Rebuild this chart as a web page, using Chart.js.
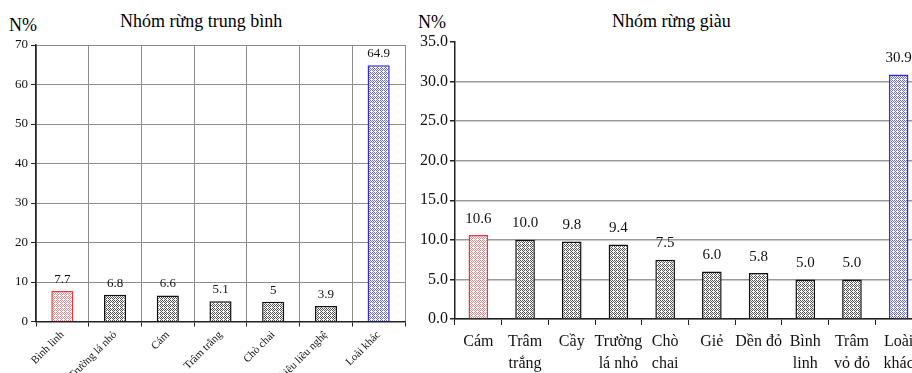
<!DOCTYPE html>
<html>
<head>
<meta charset="utf-8">
<script src="https://cdn.jsdelivr.net/npm/chart.js@4.4.0/dist/chart.umd.min.js"></script>
<style>
  html, body { margin: 0; padding: 0; background: #fff; }
  body { width: 912px; height: 373px; overflow: hidden; position: relative; font-family: "Liberation Serif", "Times New Roman", serif; }
  .txt { position: absolute; font-size: 18px; color: #000; white-space: nowrap; line-height: 1; }
  #c1 { position: absolute; left: 0; top: 0; }
  #c2 { position: absolute; left: 410px; top: 0; }
</style>
</head>
<body>
<div class="txt" style="left:9px; top:16px;">N%</div>
<div class="txt" style="left:120px; top:12px;">Nhóm rừng trung bình</div>
<div class="txt" style="left:418px; top:13px;">N%</div>
<div class="txt" style="left:612px; top:12px;">Nhóm rừng giàu</div>
<canvas id="c1" width="410" height="373"></canvas>
<canvas id="c2" width="517" height="373"></canvas>
<script>
// left chart - average forest group
const midLabels = ["Bình linh", "Trường lá nhỏ", "Cám", "Trâm trắng", "Chò chai", "Chiêu liêu nghệ", "Loài khác"];
const midValues = [7.7, 6.8, 6.6, 5.1, 5, 3.9, 64.9];
const midTicks = [0, 10, 20, 30, 40, 50, 60, 70];

// right chart - rich forest group
const richLabels = ["Cám", ["Trâm", "trắng"], "Cầy", ["Trường", "lá nhỏ"], ["Chò", "chai"], "Giẻ", "Dền đỏ", ["Bình", "linh"], ["Trâm", "vỏ đỏ"], ["Loài", "khác"]];
const richValues = [10.6, 10.0, 9.8, 9.4, 7.5, 6.0, 5.8, 5.0, 5.0, 30.9];
const richTicks = [0, 5, 10, 15, 20, 25, 30, 35];

const FONT = "'Liberation Serif', 'Times New Roman', serif";

function hatch(color) {
    const c = document.createElement("canvas");
    c.width = 4;
    c.height = 4;
    const g = c.getContext("2d");
    g.fillStyle = "#fff";
    g.fillRect(0, 0, 4, 4);
    g.fillStyle = color;
    g.fillRect(0, 0, 1, 1);
    g.fillRect(2, 0, 1, 1);
    g.fillRect(1, 1, 1, 1);
    g.fillRect(3, 1, 1, 1);
    g.fillRect(0, 2, 1, 1);
    g.fillRect(2, 2, 1, 1);
    g.fillRect(1, 3, 1, 1);
    return g.createPattern(c, "repeat");
}

function barColors(n) {
    const border = [], fill = [];
    for (let i = 0; i < n; i++) {
        if (i === 0) { border.push("#e8383d"); fill.push(hatch("#e88a8c")); }
        else if (i === n - 1) { border.push("#2e2ee0"); fill.push(hatch("#6a6ae8")); }
        else { border.push("#111"); fill.push(hatch("#555")); }
    }
    return { border, fill };
}

function valueLabels(fontSize, gap, fmt) {
    return {
        id: "valueLabels",
        afterDatasetsDraw(chart) {
            const ctx = chart.ctx;
            const meta = chart.getDatasetMeta(0);
            const data = chart.data.datasets[0].data;
            ctx.save();
            ctx.font = fontSize + "px " + FONT;
            ctx.fillStyle = "#111";
            ctx.textAlign = "center";
            ctx.textBaseline = "bottom";
            meta.data.forEach((bar, i) => {
                ctx.fillText(fmt(data[i]), bar.x, bar.y - gap);
            });
            ctx.restore();
        }
    };
}

const mc = barColors(midValues.length);
new Chart(document.getElementById("c1"), {
    type: "bar",
    data: {
        labels: midLabels,
        datasets: [{
            data: midValues,
            backgroundColor: mc.fill,
            borderColor: mc.border,
            borderWidth: 1.5,
            barPercentage: 0.42,
            categoryPercentage: 1
        }]
    },
    options: {
        responsive: false,
        animation: false,
        layout: { padding: { left: 0, right: 5, top: 45, bottom: 0 } },
        plugins: { legend: { display: false }, tooltip: { enabled: false } },
        scales: {
            x: {
                afterFit(s) { s.height = 51.5; },
                grid: { color: "#8c8c8c", tickColor: "#222", tickLength: 5, offset: true },
                border: { color: "#222", width: 1.5 },
                ticks: { color: "#111", font: { family: FONT, size: 11 }, maxRotation: 45, minRotation: 45, padding: 2, autoSkip: false }
            },
            y: {
                min: 0,
                max: 70,
                afterFit(s) { s.width = 36; },
                afterBuildTicks(s) { s.ticks = midTicks.map(v => ({ value: v })); },
                grid: { color: "#8c8c8c", tickColor: "#222", tickLength: 5 },
                border: { color: "#222", width: 1.5 },
                ticks: { color: "#111", font: { family: FONT, size: 13 }, padding: 3 }
            }
        }
    },
    plugins: [valueLabels(13, 5, v => String(v))]
});

const rc = barColors(richValues.length);
new Chart(document.getElementById("c2"), {
    type: "bar",
    data: {
        labels: richLabels,
        datasets: [{
            data: richValues,
            backgroundColor: rc.fill,
            borderColor: rc.border,
            borderWidth: 1.5,
            barPercentage: 0.42,
            categoryPercentage: 1
        }]
    },
    options: {
        responsive: false,
        animation: false,
        layout: { padding: { left: 0, right: 5, top: 42, bottom: 0 } },
        plugins: { legend: { display: false }, tooltip: { enabled: false } },
        scales: {
            x: {
                afterFit(s) { s.height = 54; },
                grid: { drawOnChartArea: false, tickColor: "#222", tickLength: 6, offset: true },
                border: { color: "#222", width: 1.5 },
                ticks: { color: "#111", font: { family: FONT, size: 16, lineHeight: 1.35 }, padding: 6, maxRotation: 0, autoSkip: false }
            },
            y: {
                min: 0,
                max: 35,
                afterFit(s) { s.width = 45; },
                afterBuildTicks(s) { s.ticks = richTicks.map(v => ({ value: v })); },
                grid: {
                    color: ctx => (ctx.tick && ctx.tick.value === 35) ? "rgba(0,0,0,0)" : "#9a9a9a",
                    lineWidth: 1.5,
                    tickColor: "#222",
                    tickLength: 5
                },
                border: { color: "#222", width: 1.5 },
                ticks: { color: "#111", font: { family: FONT, size: 16 }, padding: 2, callback: v => Number(v).toFixed(1) }
            }
        }
    },
    plugins: [valueLabels(15, 9, v => v.toFixed(1))]
});
</script>
</body>
</html>
